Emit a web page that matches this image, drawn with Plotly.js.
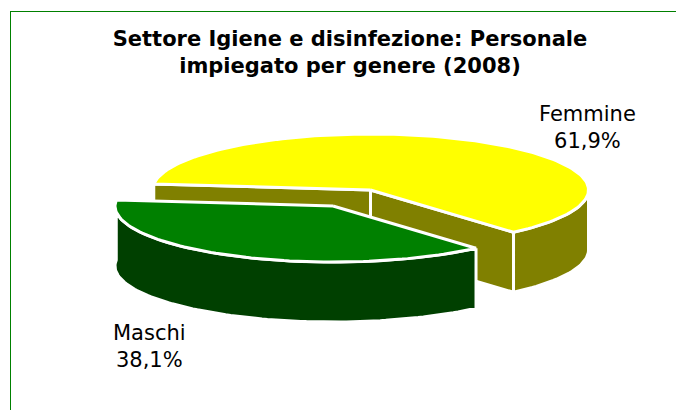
<!DOCTYPE html>
<html>
<head>
<meta charset="utf-8">
<script src="https://cdn.plot.ly/plotly-3.0.1.min.js"></script>
<style>html,body{margin:0;padding:0;background:#fff;overflow:hidden}#chart{width:676px;height:410px}</style>
</head>
<body>
<div id="chart"></div>
<script>
// Data
const categories = ["Maschi", "Femmine"];
const shares = [38.1, 61.9];
const topColors = ["#008000", "#FFFF00"];
const wallColors = ["#004000", "#808000"];
const chartTitle = "Settore Igiene e disinfezione: Personale<br>impiegato per genere (2008)";

// Projection of the tilted pie into the unit (pixel) axes
const RX = 218, RY = 56, DEPTH = 60, START = 49;
const CENTER = {Maschi: [333, 206], Femmine: [370.5, 190]};

const rad = d => d * Math.PI / 180;
const rim = (c, t) => [c[0] + RX * Math.cos(rad(t)), c[1] + RY * Math.sin(rad(t))];
function arc(c, a, b) {
  const pts = [];
  for (let t = a; t < b; t += 1.5) pts.push(rim(c, t));
  pts.push(rim(c, b));
  return pts;
}
const down = p => [p[0], p[1] + DEPTH];
function poly(pts, color, name) {
  const closed = pts.concat([pts[0]]);
  return {
    type: "scatter", mode: "lines", name: name,
    x: closed.map(p => p[0]), y: closed.map(p => p[1]),
    fill: "toself", fillcolor: color,
    line: {color: "#fff", width: 3, shape: "linear"},
    hoverinfo: "skip", showlegend: false
  };
}

// Slice angles follow directly from the shares
const sweep0 = shares[0] * 3.6, sweep1 = shares[1] * 3.6;
const a0 = START, a1 = START + sweep0, a2 = a1 + sweep1;
const cM = CENTER[categories[0]], cF = CENTER[categories[1]];
const traces = [];

// Femmine: cut faces, outer wall, top
traces.push(poly([cF, rim(cF, a1), down(rim(cF, a1)), down(cF)], wallColors[1], categories[1]));
traces.push(poly([cF, rim(cF, a0), down(rim(cF, a0)), down(cF)], wallColors[1], categories[1]));
const wallF = arc(cF, 360, a2);
traces.push(poly(wallF.concat(wallF.slice().reverse().map(down)), wallColors[1], categories[1]));
traces.push(poly([cF].concat(arc(cF, a1, a2)), topColors[1], categories[1]));

// Maschi: outer wall, top
const wallM = arc(cM, a0, a1);
traces.push(poly(wallM.concat(wallM.slice().reverse().map(down)), wallColors[0], categories[0]));
traces.push(poly([cM].concat(arc(cM, a0, a1)), topColors[0], categories[0]));

const pct = v => v.toFixed(1).replace(".", ",") + "%";
const labelFont = {family: "DejaVu Sans, Verdana, sans-serif", size: 21, color: "#000"};

const layout = {
  width: 676, height: 410,
  margin: {l: 0, r: 0, t: 0, b: 0},
  paper_bgcolor: "#fff", plot_bgcolor: "#fff",
  showlegend: false,
  title: {
    text: "<b>" + chartTitle.replace("<br>", "</b><br><b>") + "</b>",
    x: 350 / 676, xanchor: "center", xref: "paper",
    y: 1 - 46 / 410, yanchor: "middle", yref: "paper",
    font: {family: "DejaVu Sans, Verdana, sans-serif", size: 21, color: "#000"}
  },
  xaxis: {range: [0, 676], visible: false, fixedrange: true},
  yaxis: {range: [410, 0], visible: false, fixedrange: true},
  shapes: [
    {type: "line", xref: "x", yref: "y", x0: 10.5, x1: 10.5, y0: 11, y1: 410, line: {color: "#008000", width: 1}},
    {type: "line", xref: "x", yref: "y", x0: 10.5, x1: 676, y0: 11.5, y1: 11.5, line: {color: "#008000", width: 1}}
  ],
  annotations: [
    {x: 587, y: 127, text: categories[1] + "<br>" + pct(shares[1]), showarrow: false, xanchor: "center", yanchor: "middle", font: labelFont},
    {x: 149, y: 346, text: categories[0] + "<br>" + pct(shares[0]), showarrow: false, xanchor: "center", yanchor: "middle", font: labelFont}
  ]
};
Plotly.newPlot("chart", traces, layout, {displayModeBar: false, staticPlot: true});
</script>
</body>
</html>
